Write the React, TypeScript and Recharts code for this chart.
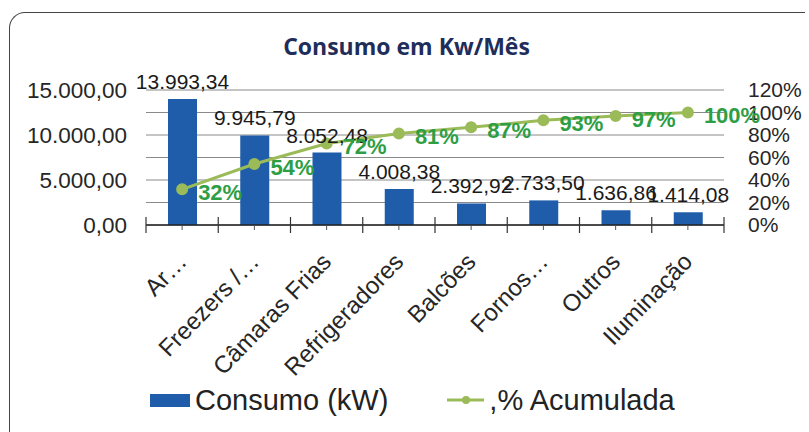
import React from 'react';
import {
  ComposedChart,
  Bar,
  Line,
  XAxis,
  YAxis,
  CartesianGrid,
  Legend,
  LabelList,
} from 'recharts';

const CATEGORIES = ['Ar…', 'Freezers /…', 'Câmaras Frias', 'Refrigeradores', 'Balcões', 'Fornos…', 'Outros', 'Iluminação'];
const CONSUMO = [13993.34, 9945.79, 8052.48, 4008.38, 2392.92, 2733.5, 1636.86, 1414.08];
const ACUMULADA = [0.317, 0.542, 0.724, 0.814, 0.869, 0.931, 0.968, 1.0];
const LEFT_TICKS = [0, 5000, 10000, 15000];
const RIGHT_TICKS = [0, 0.2, 0.4, 0.6, 0.8, 1.0, 1.2];

const W = 809;
const H = 432;
const LEFT_W = 146;
const RIGHT_W = 85;
const FONT = '"Liberation Sans", Arial, sans-serif';
const BLUE = '#1F5DAB';
const OLIVE = '#9BBB59';
const GREEN = '#2E9E45';

const data = CATEGORIES.map((name, i) => ({ name, consumo: CONSUMO[i], acum: ACUMULADA[i] }));

// pt-BR number: 13.993,34
const fmt = (v: number) => {
  const [int, dec] = Math.abs(v).toFixed(2).split('.');
  const withDots = int.replace(/\B(?=(\d{3})+(?!\d))/g, '.');
  return `${withDots},${dec}`;
};
const pct = (v: number) => `${Math.round(v * 100)}%`;

const band = (W - LEFT_W - RIGHT_W) / CATEGORIES.length;

const CategoryTick = (props: any) => {
  const { x, y, payload, index } = props;
  const left = x - band / 2;
  const tx = x + 6;
  const ty = y + 38;
  return (
    <g>
      <line x1={left} x2={left} y1={y - 8} y2={y + 8} stroke="#333" strokeWidth={1.2} />
      <line x1={x} x2={x} y1={y} y2={y + 5} stroke="#555" strokeWidth={1} />
      {index === CATEGORIES.length - 1 && (
        <line x1={x + band / 2} x2={x + band / 2} y1={y - 8} y2={y + 8} stroke="#333" strokeWidth={1.2} />
      )}
      <text
        x={tx}
        y={ty}
        textAnchor="end"
        transform={`rotate(-46, ${tx}, ${ty})`}
        fontFamily={FONT}
        fontSize={24}
        fill="#262626"
      >
        {payload.value}
      </text>
    </g>
  );
};

const PctLabel = (props: any) => {
  const { x, y, value } = props;
  return (
    <text x={x + 16} y={y + 3} dominantBaseline="central" fontFamily={FONT} fontWeight="bold" fontSize={22} fill={GREEN}>
      {pct(value)}
    </text>
  );
};

const LegendContent = () => (
  <div style={{ height: 40, display: 'flex', alignItems: 'center', paddingLeft: 150, fontFamily: FONT, fontSize: 29, color: '#222' }}>
    <span style={{ display: 'inline-block', width: 40, height: 13, background: BLUE, marginRight: 5 }} />
    <span>Consumo (kW)</span>
    <svg width={40} height={14} style={{ marginLeft: 58, marginRight: 3 }}>
      <line x1={1} x2={38} y1={7} y2={7} stroke={OLIVE} strokeWidth={3} />
      <circle cx={20} cy={7} r={4} fill={OLIVE} />
    </svg>
    <span>,% Acumulada</span>
  </div>
);

export default function App() {
  return (
    <div style={{ position: 'absolute', left: 0, top: 0, width: W, height: H, overflow: 'hidden', background: '#fff' }}>
      <div
        style={{
          position: 'absolute',
          left: 9,
          top: 12,
          width: 795,
          height: 440,
          borderTop: '1.5px solid #444',
          borderLeft: '1.5px solid #444',
          borderTopLeftRadius: 16,
        }}
      />
      <div
        style={{
          position: 'absolute',
          left: 0,
          width: W,
          top: 30,
          textAlign: 'center',
          fontFamily: '"Open Sans", "Noto Sans", sans-serif',
          fontWeight: 700,
          fontSize: 23,
          color: '#1F2D5A',
          paddingLeft: 2,
        }}
      >
        Consumo em Kw/Mês
      </div>
      <ComposedChart width={W} height={H} data={data} margin={{ top: 90, right: 0, left: 0, bottom: 12 }}>
        <CartesianGrid yAxisId="right" vertical={false} stroke="#8a8a8a" strokeWidth={1} />
        <XAxis
          dataKey="name"
          height={155}
          interval={0}
          tickLine={false}
          tickSize={0}
          tickMargin={0}
          axisLine={{ stroke: '#222', strokeWidth: 1.3 }}
          tick={<CategoryTick />}
        />
        <YAxis
          yAxisId="left"
          width={LEFT_W}
          domain={[0, 15000]}
          ticks={LEFT_TICKS}
          interval={0}
          tickFormatter={fmt}
          axisLine={false}
          tickLine={false}
          tickSize={0}
          tickMargin={19}
          tick={{ fontFamily: FONT, fontSize: 22.5, fill: '#262626' }}
        />
        <YAxis
          yAxisId="right"
          orientation="right"
          width={RIGHT_W}
          domain={[0, 1.2]}
          ticks={RIGHT_TICKS}
          interval={0}
          tickFormatter={pct}
          axisLine={false}
          tickLine={false}
          tickSize={0}
          tickMargin={24}
          tick={{ fontFamily: FONT, fontSize: 21, fill: '#262626' }}
        />
        <Legend verticalAlign="bottom" content={<LegendContent />} />
        <Bar yAxisId="left" dataKey="consumo" name="Consumo (kW)" fill={BLUE} barSize={29} isAnimationActive={false}>
          <LabelList dataKey="consumo" position="top" offset={10} formatter={(v: any) => fmt(Number(v))} style={{ fontFamily: FONT, fontSize: 21, fill: '#1a1a1a' }} />
        </Bar>
        <Line
          yAxisId="right"
          dataKey="acum"
          name=",% Acumulada"
          stroke={OLIVE}
          strokeWidth={3}
          dot={{ r: 4.5, fill: OLIVE, stroke: OLIVE }}
          isAnimationActive={false}
        >
          <LabelList dataKey="acum" content={<PctLabel />} />
        </Line>
      </ComposedChart>
    </div>
  );
}
